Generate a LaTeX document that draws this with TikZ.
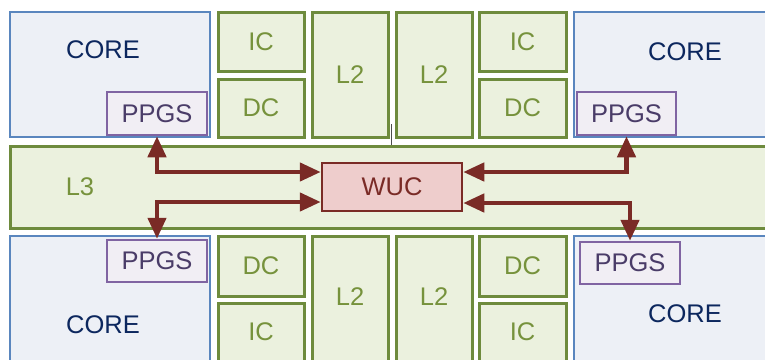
\documentclass[tikz,border=0pt]{standalone}
\usepackage{fontspec}
\setmainfont{Liberation Sans}
\usetikzlibrary{arrows.meta,calc}
\definecolor{gline}{HTML}{6E8B3D}
\definecolor{gfill}{HTML}{EBF1DE}
\definecolor{gtext}{HTML}{76923C}
\definecolor{bline}{HTML}{5A86BE}
\definecolor{bfill}{HTML}{EDF0F6}
\definecolor{btext}{HTML}{0C275E}
\definecolor{pline}{HTML}{8064A2}
\definecolor{pfill}{HTML}{F1EEF4}
\definecolor{ptext}{HTML}{4A3C68}
\definecolor{rline}{HTML}{7A2B26}
\definecolor{rfill}{HTML}{EECDCC}
\begin{document}
\begin{tikzpicture}[x=1pt,y=-1pt,
  font=\fontsize{25.5}{30}\selectfont,
  gbox/.style={draw=gline,fill=gfill,line width=3pt,text=gtext,inner sep=0pt},
  cbox/.style={draw=bline,fill=bfill,line width=2pt,inner sep=0pt},
  ctext/.style={text=btext,inner sep=0pt},
  pbox/.style={draw=pline,fill=pfill,line width=2.5pt,text=ptext,inner sep=0pt},
  wbox/.style={draw=rline,fill=rfill,line width=2.5pt,text=rline,inner sep=0pt},
  arr/.style={draw=rline,line width=4.5pt,{Triangle[length=21pt,width=18pt]}-{Triangle[length=21pt,width=18pt]}},
  tick/.style={draw=black!70,line width=0.8pt}
]
\useasboundingbox (0,0) rectangle (765,359);
\clip (0,0) rectangle (765,359);
\fill[white] (0,0) rectangle (765,359);
% top row
\node[cbox,minimum width=200pt,minimum height=125pt] (coreTL) at (110,74.5) {};
\node[ctext] (coreTLt) at (103,50) {CORE};
\node[pbox,minimum width=100pt,minimum height=43pt] (pTL) at (157,113.5) {PPGS};
\node[gbox,minimum width=86pt,minimum height=59pt] (icTL) at (261,41.5) {IC};
\node[gbox,minimum width=86pt,minimum height=58pt] (dcTL) at (261,108) {DC};
\node[gbox,minimum width=76pt,minimum height=125pt] (l2TL) at (350,74.5) {L2};
\node[gbox,minimum width=76pt,minimum height=125pt] (l2TR) at (434,74.5) {L2};
\node[gbox,minimum width=87pt,minimum height=59pt] (icTR) at (522.5,41.5) {IC};
\node[gbox,minimum width=87pt,minimum height=58pt] (dcTR) at (522.5,108) {DC};
\node[cbox,minimum width=226pt,minimum height=125pt] (coreTR) at (687,74.5) {};
\node[ctext] (coreTRt) at (685,52) {CORE};
\node[pbox,minimum width=99pt,minimum height=43pt] (pTR) at (626.5,113.5) {PPGS};
% L3 and WUC
\node[gbox,minimum width=790pt,minimum height=82pt] (l3) at (405,187) {};
\node[text=gtext,inner sep=0pt] (l3t) at (80,187) {L3};
\node[wbox,minimum width=140pt,minimum height=48pt] (wuc) at (392,187) {WUC};
% bottom row
\node[cbox,minimum width=200pt,minimum height=164pt] (coreBL) at (110,318) {};
\node[ctext] (coreBLt) at (103,325) {CORE};
\node[pbox,minimum width=100pt,minimum height=42pt] (pBL) at (157,261) {PPGS};
\node[gbox,minimum width=86pt,minimum height=60pt] (dcBL) at (261,266) {DC};
\node[gbox,minimum width=86pt,minimum height=60pt] (icBL) at (261,333) {};
\node[text=gtext,inner sep=0pt] (icBLt) at (261,332) {IC};
\node[gbox,minimum width=76pt,minimum height=164pt] (l2BL) at (350,318) {};
\node[text=gtext,inner sep=0pt] (l2BLt) at (350,297) {L2};
\node[gbox,minimum width=76pt,minimum height=164pt] (l2BR) at (434,318) {};
\node[text=gtext,inner sep=0pt] (l2BRt) at (434,297) {L2};
\node[gbox,minimum width=87pt,minimum height=60pt] (dcBR) at (522.5,266) {DC};
\node[gbox,minimum width=87pt,minimum height=60pt] (icBR) at (522.5,333) {};
\node[text=gtext,inner sep=0pt] (icBRt) at (522.5,332) {IC};
\node[cbox,minimum width=226pt,minimum height=164pt] (coreBR) at (687,318) {};
\node[ctext] (coreBRt) at (685,314) {CORE};
\node[pbox,minimum width=100pt,minimum height=42pt] (pBR) at (630,263) {PPGS};
% tick
\coordinate (tkA) at (391.5,124);
\coordinate (tkB) at (391.5,145);
\draw[tick] (tkA) -- (tkB);
% arrows
\draw[arr] (pTL.south) |- ($(wuc.west)+(0,-15)$);
\draw[arr] ($(wuc.west)+(0,15)$) -| (pBL.north);
\draw[arr] (pTR.south) |- ($(wuc.east)+(0,-15)$);
\draw[arr] ($(wuc.east)+(0,16)$) -| (pBR.north);
\end{tikzpicture}
\end{document}
